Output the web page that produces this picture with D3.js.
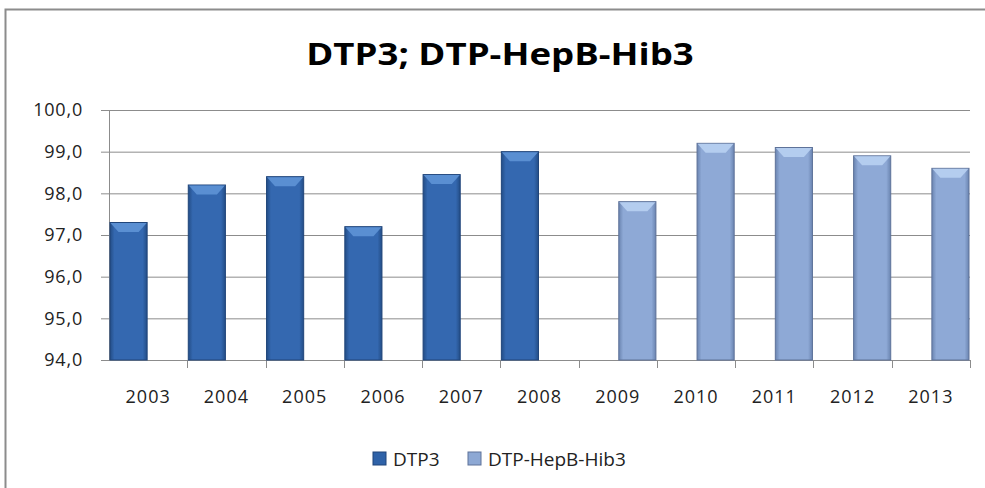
<!DOCTYPE html>
<html>
<head>
<meta charset="utf-8">
<script src="https://cdn.jsdelivr.net/npm/d3@7"></script>
<style>
  html, body { margin: 0; background: #fff; overflow: hidden; }
  svg { display: block; }
</style>
</head>
<body>
<div id="chart"></div>
<script>
// data
const years = ["2003", "2004", "2005", "2006", "2007", "2008", "2009", "2010", "2011", "2012", "2013"];
const seriesNames = ["DTP3", "DTP-HepB-Hib3"];
const dtp3 = [97.3, 98.2, 98.4, 97.2, 98.45, 99.0, null, null, null, null, null];
const hepb = [null, null, null, null, null, null, 97.8, 99.2, 99.1, 98.9, 98.6];
const yTicks = [94, 95, 96, 97, 98, 99, 100];

const W = 985, H = 488;
const margin = {top: 110, right: 15, bottom: 128, left: 109};
const width = W - margin.left - margin.right,
      height = H - margin.top - margin.bottom;
const font = "'Open Sans', sans-serif";

const svg = d3.select("#chart").append("svg")
  .attr("width", W).attr("height", H);

// chart area border, only top and left edges are in view
svg.append("path")
  .attr("d", `M5.5,${H}L5.5,9.5L${W},9.5`)
  .attr("fill", "none").attr("stroke", "#8c8c8c").attr("stroke-width", 2);

// gradients
const defs = svg.append("defs");
function grad(id, edge, mid) {
  const g = defs.append("linearGradient").attr("id", id)
    .attr("x1", 0).attr("x2", 1).attr("y1", 0).attr("y2", 0);
  g.append("stop").attr("offset", "0%").attr("stop-color", edge);
  g.append("stop").attr("offset", "12%").attr("stop-color", mid);
  g.append("stop").attr("offset", "88%").attr("stop-color", mid);
  g.append("stop").attr("offset", "100%").attr("stop-color", edge);
}
grad("gDark", "#234d86", "#3468b0");
grad("gLight", "#6a84b0", "#8ea9d6");

const colors = [
  {fill: "url(#gDark)", top: "#5e93d6", line: "#20457a", sw: "#2f62a8"},
  {fill: "url(#gLight)", top: "#b8d0f2", line: "#5e7299", sw: "#8da8d4"}
];

const g = svg.append("g").attr("transform", `translate(${margin.left},${margin.top})`);

const x = d3.scaleBand().domain(years).range([0, width]).padding(0);
const xs = d3.scaleBand().domain([0, 1]).range([0, x.bandwidth()]).padding(0);
const y = d3.scaleLinear().domain([94, 100]).range([height, 0]);

// gridlines
g.selectAll(".grid").data(yTicks).join("line")
  .attr("x1", 0).attr("x2", width)
  .attr("y1", d => y(d) + 0.5).attr("y2", d => y(d) + 0.5)
  .attr("stroke", "#8c8c8c").attr("stroke-width", 1);

// y axis
const yAxis = g.append("g")
  .call(d3.axisLeft(y).tickValues(yTicks).tickSize(8).tickPadding(18)
    .tickFormat(d => d3.format(".1f")(d).replace(".", ",")));
yAxis.select(".domain").attr("stroke", "#8c8c8c");
yAxis.selectAll(".tick line").attr("stroke", "#8c8c8c");
yAxis.selectAll("text")
  .style("font-family", font).style("font-size", "18px")
  .attr("letter-spacing", 0.8).attr("fill", "#222");

// x axis
const xAxis = g.append("g").attr("transform", `translate(0,${height})`)
  .call(d3.axisBottom(x).tickSize(0).tickPadding(30));
xAxis.select(".domain").attr("stroke", "#8c8c8c");
xAxis.selectAll("text")
  .style("font-family", font).style("font-size", "18px")
  .attr("letter-spacing", 1).attr("fill", "#222");
// category boundary ticks
g.selectAll(".xt").data(years.slice(1).concat(["end"])).join("line")
  .attr("x1", (d, i) => Math.round(x.step() * (i + 1)) + 0.5)
  .attr("x2", (d, i) => Math.round(x.step() * (i + 1)) + 0.5)
  .attr("y1", height).attr("y2", height + 8)
  .attr("stroke", "#8c8c8c");

// bars
const data = [dtp3, hepb];
data.forEach((vals, si) => {
  const c = colors[si];
  const pts = years.map((yr, i) => ({yr, v: vals[i]})).filter(d => d.v != null);
  const bars = g.append("g").selectAll("g").data(pts).join("g");
  bars.append("rect")
    .attr("x", d => x(d.yr) + xs(si) + 1)
    .attr("y", d => y(d.v))
    .attr("width", xs.bandwidth() - 2)
    .attr("height", d => height - y(d.v))
    .attr("fill", c.fill)
    .attr("stroke", c.line).attr("stroke-width", 1);
  // top bevel
  bars.append("path")
    .attr("d", d => {
      const x0 = x(d.yr) + xs(si) + 1.5, x1 = x0 + xs.bandwidth() - 3, t = y(d.v) + 0.5;
      return `M${x0},${t}L${x1},${t}L${x1 - 8},${t + 9}L${x0 + 8},${t + 9}Z`;
    })
    .attr("fill", c.top).attr("opacity", 0.9);
});

// title, stretched wide like the original
svg.append("text")
  .attr("transform", "translate(500,65) scale(1.22,1)")
  .attr("text-anchor", "middle")
  .style("font-family", font).style("font-weight", "bold")
  .style("font-size", "30px").attr("fill", "#000")
  .text("DTP3; DTP-HepB-Hib3");

// legend
const legX = [373, 468];
const leg = svg.append("g").selectAll("g").data(seriesNames).join("g")
  .attr("transform", (d, i) => `translate(${legX[i]},452)`);
leg.append("rect").attr("width", 13).attr("height", 13)
  .attr("fill", (d, i) => colors[i].sw).attr("stroke", (d, i) => colors[i].line);
leg.append("text").attr("x", 20).attr("y", 14)
  .style("font-family", font).style("font-size", "19px")
  .attr("fill", "#222")
  .text(d => d);
</script>
</body>
</html>
